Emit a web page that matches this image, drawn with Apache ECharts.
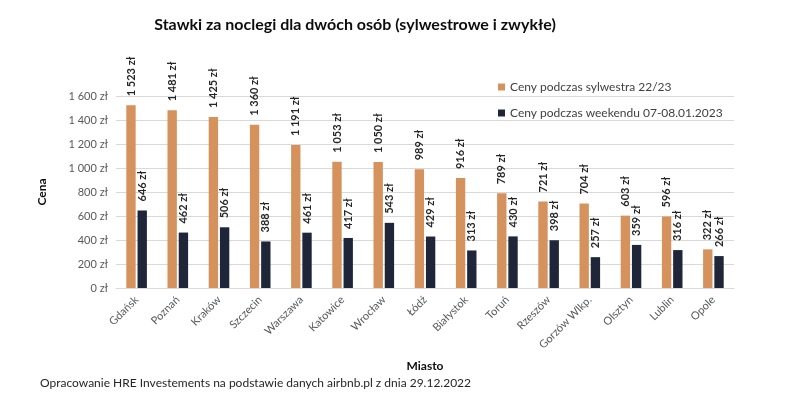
<!DOCTYPE html>
<html><head><meta charset="utf-8">
<script src="https://cdn.jsdelivr.net/npm/echarts@6/dist/echarts.min.js"></script>
<style>html,body{margin:0;padding:0;background:#fff}#c{width:800px;height:405px}</style>
</head><body><div id="c"></div>
<script>
const categories = ['Gdańsk','Poznań','Kraków','Szczecin','Warszawa','Katowice','Wrocław','Łódź','Białystok','Toruń','Rzeszów','Gorzów Wlkp.','Olsztyn','Lublin','Opole'];
const sylwester = [1523,1481,1425,1360,1191,1053,1050,989,916,789,721,704,603,596,322];
const weekend = [646,462,506,388,461,417,543,429,313,430,398,257,359,316,266];
const seriesNames = ['Ceny podczas sylwestra 22/23','Ceny podczas weekendu 07-08.01.2023'];
const yTicks = {min:0, max:1600, interval:200};

const FONT = 'Lato';
function fmt(v){ return String(v).replace(/\B(?=(\d{3})+(?!\d))/g,' ') + ' zł'; }
const chart = echarts.init(document.getElementById('c'));
const lbl = {show:true, position:'top', rotate:90, align:'left', verticalAlign:'middle', distance:9,
  fontFamily:FONT, fontSize:11, fontWeight:'bold', color:'#262626', formatter:p=>fmt(p.value)};
chart.setOption({
  animation:false,
  textStyle:{fontFamily:FONT},
  title:{text:'Stawki za noclegi dla dwóch osób (sylwestrowe i zwykłe)', left:350, top:12, textAlign:'center',
    textStyle:{fontFamily:FONT, fontSize:16, fontWeight:'bold', color:'#0d0d0d'}},
  legend:{orient:'vertical', left:493, top:76, itemWidth:7, itemHeight:7, itemGap:14, icon:'rect',
    textStyle:{fontFamily:FONT, fontSize:12, color:'#404040'}},
  grid:{left:116, right:66, top:96, bottom:117},
  xAxis:{type:'category', data:categories, name:'Miasto', nameLocation:'middle', nameGap:72,
    nameTextStyle:{fontFamily:FONT, fontSize:12, fontWeight:'bold', color:'#0d0d0d'},
    axisTick:{show:false}, axisLine:{lineStyle:{color:'#d9d9d9'}},
    axisLabel:{rotate:45, interval:0, fontFamily:FONT, fontSize:11, color:'#595959', margin:10}},
  yAxis:{type:'value', min:yTicks.min, max:yTicks.max, interval:yTicks.interval, name:'Cena', nameLocation:'middle', nameGap:68,
    nameTextStyle:{fontFamily:FONT, fontSize:12, fontWeight:'bold', color:'#0d0d0d'},
    axisLabel:{formatter:fmt, fontFamily:FONT, fontSize:11, color:'#595959', margin:8},
    splitLine:{lineStyle:{color:'#d9d9d9'}}},
  graphic:[{type:'text', left:40, top:377, style:{text:'Opracowanie HRE Investements na podstawie danych airbnb.pl z dnia 29.12.2022',
    font:'12px '+FONT, fill:'#262626'}}],
  series:[
    {name:seriesNames[0], type:'bar', data:sylwester, itemStyle:{color:'#D5925D'}, barGap:'20%', barCategoryGap:'50%', label:lbl},
    {name:seriesNames[1], type:'bar', data:weekend, itemStyle:{color:'#20263A'}, label:lbl}
  ]
});
</script></body></html>
